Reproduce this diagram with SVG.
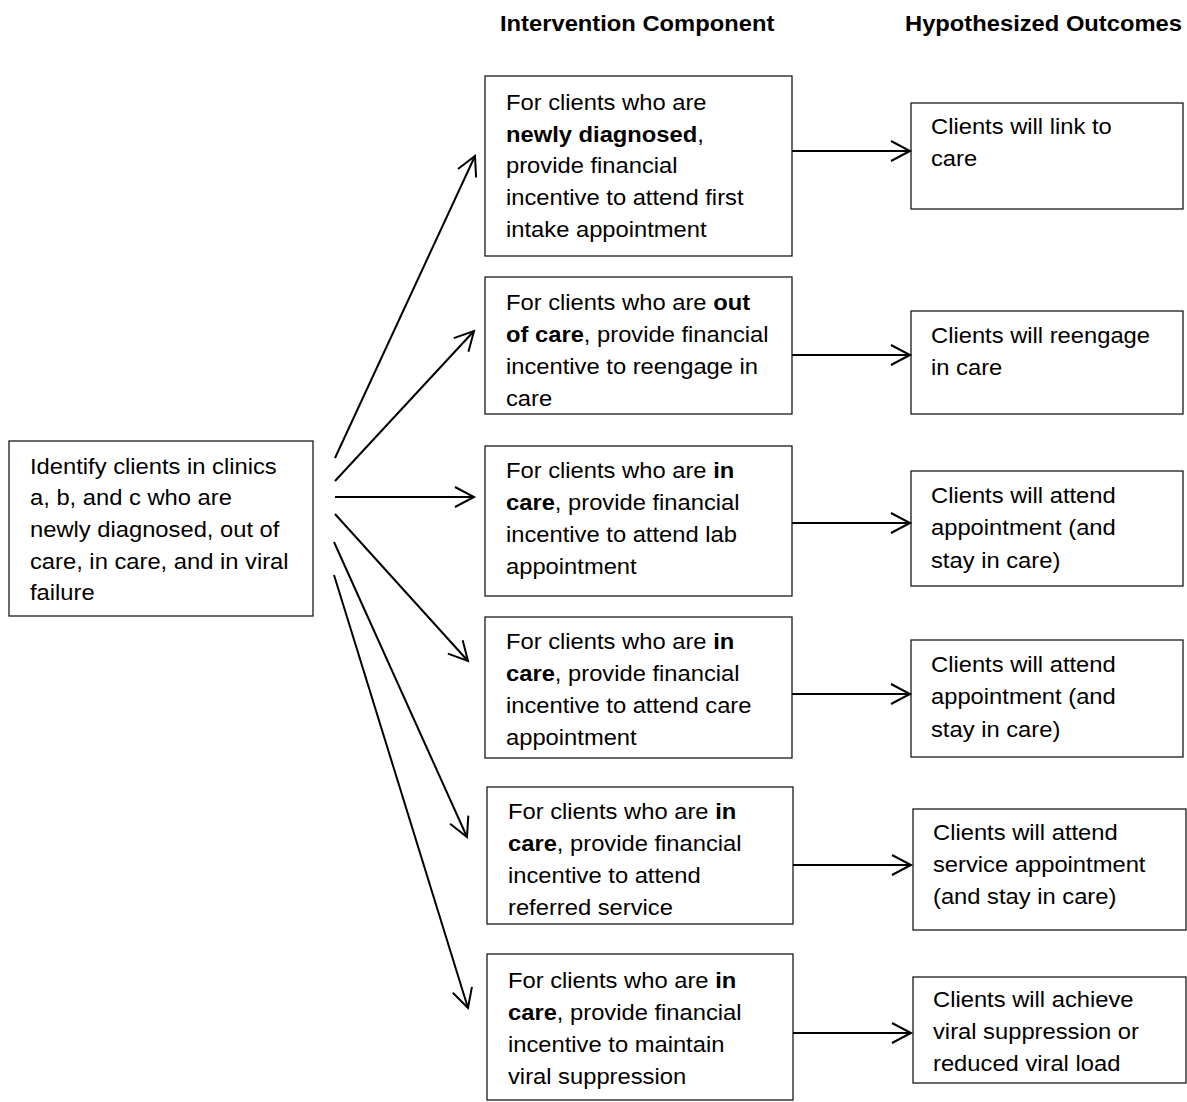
<svg xmlns="http://www.w3.org/2000/svg" width="1187" height="1102" viewBox="0 0 1187 1102">
<style>
  .box { fill: #fff; stroke: #1a1a1a; stroke-width: 1.3; }
  .t { font-family: "Liberation Sans", Arial, sans-serif; font-size: 22px; fill: #000; }
  .b { font-weight: bold; }
  .h { font-family: "Liberation Sans", Arial, sans-serif; font-size: 22px; font-weight: bold; fill: #000; }
  .c { stroke: #000; stroke-width: 2; fill: none; marker-end: url(#arr); }
</style>
<defs>
  <marker id="arr" markerUnits="userSpaceOnUse" viewBox="0 0 24 24" refX="21" refY="12" markerWidth="24" markerHeight="24" orient="auto" overflow="visible">
    <path d="M2,2 L21,12 L2,22" fill="none" stroke="#000" stroke-width="2"/>
  </marker>
</defs>
<rect width="1187" height="1102" fill="#fff"/>

<g id="headers">
  <text class="h" transform="translate(500,31) scale(1.08,1)">Intervention Component</text>
  <text class="h" transform="translate(905,31) scale(1.08,1)">Hypothesized Outcomes</text>
</g>

<g id="source">
  <rect class="box" x="9" y="441" width="304" height="175"/>
  <text class="t" transform="translate(30,473.5) scale(1.08,1)">
    <tspan x="0" y="0">Identify clients in clinics</tspan>
    <tspan x="0" y="31.7">a, b, and c who are</tspan>
    <tspan x="0" y="63.4">newly diagnosed, out of</tspan>
    <tspan x="0" y="95.1">care, in care, and in viral</tspan>
    <tspan x="0" y="126.8">failure</tspan>
  </text>
</g>

<g id="comp1">
  <rect class="box" x="485" y="76" width="307" height="180"/>
  <text class="t" transform="translate(506,110) scale(1.08,1)">
    <tspan x="0" y="0">For clients who are</tspan>
    <tspan x="0" y="31.7"><tspan class="b">newly diagnosed</tspan>,</tspan>
    <tspan x="0" y="63.4">provide financial</tspan>
    <tspan x="0" y="95.1">incentive to attend first</tspan>
    <tspan x="0" y="126.8">intake appointment</tspan>
  </text>
</g>
<g id="comp2">
  <rect class="box" x="485" y="277" width="307" height="137"/>
  <text class="t" transform="translate(506,310) scale(1.08,1)">
    <tspan x="0" y="0">For clients who are <tspan class="b">out</tspan></tspan>
    <tspan x="0" y="32"><tspan class="b">of care</tspan>, provide financial</tspan>
    <tspan x="0" y="64">incentive to reengage in</tspan>
    <tspan x="0" y="96">care</tspan>
  </text>
</g>
<g id="comp3">
  <rect class="box" x="485" y="446" width="307" height="150"/>
  <text class="t" transform="translate(506,478) scale(1.08,1)">
    <tspan x="0" y="0">For clients who are <tspan class="b">in</tspan></tspan>
    <tspan x="0" y="32"><tspan class="b">care</tspan>, provide financial</tspan>
    <tspan x="0" y="64">incentive to attend lab</tspan>
    <tspan x="0" y="96">appointment</tspan>
  </text>
</g>
<g id="comp4">
  <rect class="box" x="485" y="617" width="307" height="141"/>
  <text class="t" transform="translate(506,649) scale(1.08,1)">
    <tspan x="0" y="0">For clients who are <tspan class="b">in</tspan></tspan>
    <tspan x="0" y="32"><tspan class="b">care</tspan>, provide financial</tspan>
    <tspan x="0" y="64">incentive to attend care</tspan>
    <tspan x="0" y="96">appointment</tspan>
  </text>
</g>
<g id="comp5">
  <rect class="box" x="487" y="787" width="306" height="137"/>
  <text class="t" transform="translate(508,819) scale(1.08,1)">
    <tspan x="0" y="0">For clients who are <tspan class="b">in</tspan></tspan>
    <tspan x="0" y="32"><tspan class="b">care</tspan>, provide financial</tspan>
    <tspan x="0" y="64">incentive to attend</tspan>
    <tspan x="0" y="96">referred service</tspan>
  </text>
</g>
<g id="comp6">
  <rect class="box" x="487" y="954" width="306" height="146"/>
  <text class="t" transform="translate(508,988) scale(1.08,1)">
    <tspan x="0" y="0">For clients who are <tspan class="b">in</tspan></tspan>
    <tspan x="0" y="32"><tspan class="b">care</tspan>, provide financial</tspan>
    <tspan x="0" y="64">incentive to maintain</tspan>
    <tspan x="0" y="96">viral suppression</tspan>
  </text>
</g>

<g id="out1">
  <rect class="box" x="911" y="103" width="272" height="106"/>
  <text class="t" transform="translate(931,134) scale(1.08,1)">
    <tspan x="0" y="0">Clients will link to</tspan>
    <tspan x="0" y="32.3">care</tspan>
  </text>
</g>
<g id="out2">
  <rect class="box" x="911" y="311" width="272" height="103"/>
  <text class="t" transform="translate(931,343) scale(1.08,1)">
    <tspan x="0" y="0">Clients will reengage</tspan>
    <tspan x="0" y="32.3">in care</tspan>
  </text>
</g>
<g id="out3">
  <rect class="box" x="911" y="471" width="272" height="115"/>
  <text class="t" transform="translate(931,503) scale(1.08,1)">
    <tspan x="0" y="0">Clients will attend</tspan>
    <tspan x="0" y="32.3">appointment (and</tspan>
    <tspan x="0" y="64.6">stay in care)</tspan>
  </text>
</g>
<g id="out4">
  <rect class="box" x="911" y="640" width="272" height="117"/>
  <text class="t" transform="translate(931,672) scale(1.08,1)">
    <tspan x="0" y="0">Clients will attend</tspan>
    <tspan x="0" y="32.3">appointment (and</tspan>
    <tspan x="0" y="64.6">stay in care)</tspan>
  </text>
</g>
<g id="out5">
  <rect class="box" x="913" y="809" width="273" height="121"/>
  <text class="t" transform="translate(933,840) scale(1.08,1)">
    <tspan x="0" y="0">Clients will attend</tspan>
    <tspan x="0" y="32">service appointment</tspan>
    <tspan x="0" y="64">(and stay in care)</tspan>
  </text>
</g>
<g id="out6">
  <rect class="box" x="913" y="977" width="273" height="106"/>
  <text class="t" transform="translate(933,1007) scale(1.08,1)">
    <tspan x="0" y="0">Clients will achieve</tspan>
    <tspan x="0" y="32">viral suppression or</tspan>
    <tspan x="0" y="64">reduced viral load</tspan>
  </text>
</g>

<g id="connectors">
  <line class="c" x1="335" y1="458" x2="475" y2="156"/>
  <line class="c" x1="335" y1="481" x2="474" y2="331"/>
  <line class="c" x1="335" y1="497" x2="474" y2="497"/>
  <line class="c" x1="335" y1="514" x2="468" y2="661"/>
  <line class="c" x1="334" y1="542" x2="467" y2="837"/>
  <line class="c" x1="334" y1="575" x2="468" y2="1008"/>
  <line class="c" x1="792" y1="151" x2="910" y2="151"/>
  <line class="c" x1="792" y1="355" x2="910" y2="355"/>
  <line class="c" x1="792" y1="523" x2="910" y2="523"/>
  <line class="c" x1="792" y1="694" x2="910" y2="694"/>
  <line class="c" x1="793" y1="865" x2="911" y2="865"/>
  <line class="c" x1="793" y1="1033" x2="911" y2="1033"/>
</g>
</svg>
